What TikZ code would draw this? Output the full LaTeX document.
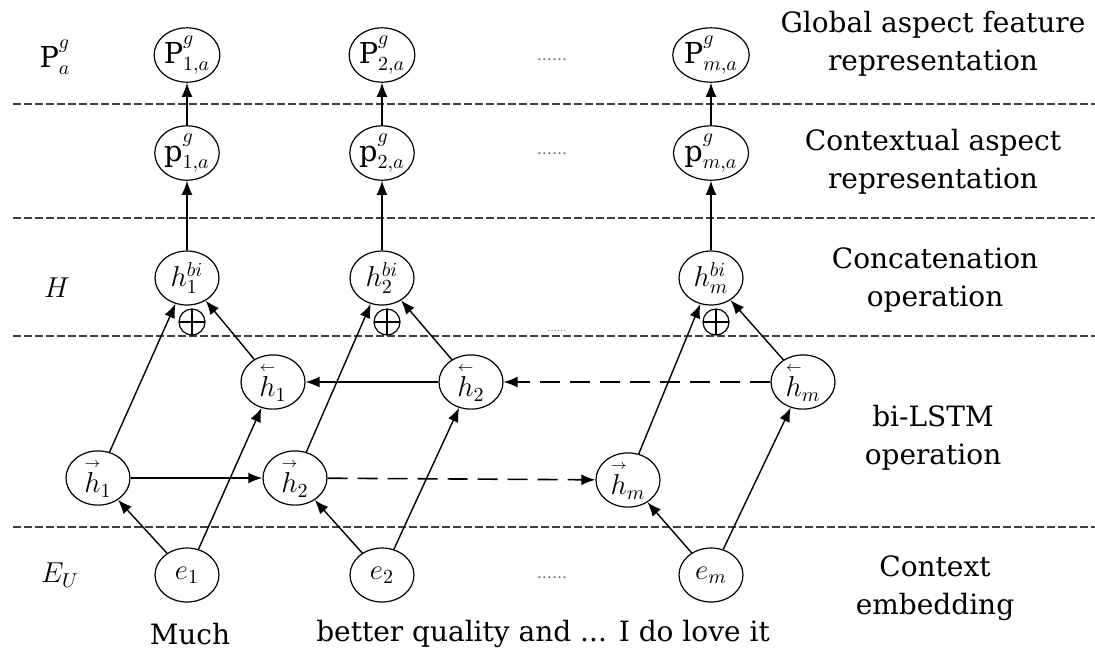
\documentclass[tikz,border=0pt]{standalone}
\usepackage{amsmath}
\usepackage{fontspec}
\setmainfont{DejaVu Serif}
\usetikzlibrary{arrows.meta}
\usetikzlibrary{shapes.geometric}

\newcommand{\fwd}[1]{\overset{\scriptscriptstyle\rightarrow}{h}_{#1}}
\newcommand{\bwd}[1]{\overset{\scriptscriptstyle\leftarrow}{h}_{#1}}

\begin{document}
\begin{tikzpicture}[
     x=0.5pt,y=-0.5pt,
     unit/.style={ellipse,draw,line width=0.6pt,minimum width=32pt,minimum height=27pt,inner sep=0pt,font=\Large},
     oplus/.style={circle,draw,line width=0.6pt,minimum size=13pt,inner sep=0pt,
       path picture={\draw[line width=0.6pt] (path picture bounding box.north) -- (path picture bounding box.south)
         (path picture bounding box.west) -- (path picture bounding box.east);}},
     layer/.style={draw=black!75,line width=0.8pt,dash pattern=on 4pt off 1.5pt},
     link/.style={-{Latex[length=7pt,width=5.5pt]},line width=0.7pt},
     skip/.style={link,line width=0.8pt,dash pattern=on 10pt off 5pt},
     tag/.style={align=center,font=\fontsize{14}{19}\selectfont},
     dots/.style={text=black!55,font=\footnotesize}
   ]
   \useasboundingbox (0,0) rectangle (1095,655);
   % Layer separators.
   \foreach \y in {104,218,336,527}
     \draw[layer] (13,\y) -- (1095,\y);
   % Row names.
   \node[font=\Large] (Pa) at (55,57) {$\mathrm{P}^{g}_{a}$};
   \node[font=\Large] (Hr) at (57,288) {$H$};
   \node[font=\Large] (Eu) at (60,575) {$E_{U}$};
   % Columns.
   \node[unit] (P1) at (187,55) {$\mathrm{P}^{g}_{1,a}$};
   \node[unit] (P2) at (382,55) {$\mathrm{P}^{g}_{2,a}$};
   \node[unit] (Pm) at (711,55) {$\mathrm{P}^{g}_{m,a}$};
   \node[unit] (p1) at (187,153) {$\mathrm{p}^{g}_{1,a}$};
   \node[unit] (p2) at (382,153) {$\mathrm{p}^{g}_{2,a}$};
   \node[unit] (pm) at (711,153) {$\mathrm{p}^{g}_{m,a}$};
   \node[unit] (H1) at (187,278) {$h^{bi}_{1}$};
   \node[unit] (H2) at (382,278) {$h^{bi}_{2}$};
   \node[unit] (Hm) at (711,278) {$h^{bi}_{m}$};
   \node[oplus] (c1) at (192,322) {};
   \node[oplus] (c2) at (387,322) {};
   \node[oplus] (cm) at (716,322) {};
   \node[unit] (b1) at (273,382) {$\bwd{1}$};
   \node[unit] (b2) at (471,382) {$\bwd{2}$};
   \node[unit] (bm) at (803,382) {$\bwd{m}$};
   \node[unit] (f1) at (98,478) {$\fwd{1}$};
   \node[unit] (f2) at (295,478) {$\fwd{2}$};
   \node[unit] (fm) at (628,480) {$\fwd{m}$};
   \node[unit] (e1) at (187,575) {$e_{1}$};
   \node[unit] (e2) at (382,575) {$e_{2}$};
   \node[unit] (em) at (711,575) {$e_{m}$};
   % Gaps.
   \node[dots] (d1) at (552,60) {......};
   \node[dots] (d2) at (552,154) {......};
   \node[dots] (d3) at (557,331) {\tiny......};
   \node[dots] (d4) at (552,578) {......};
   % Connectors.
   \foreach \i in {1,2,m} {
     \draw[link] (e\i) -- (f\i);
     \draw[link] (e\i) -- (b\i);
     \draw[link] (f\i) -- (H\i);
     \draw[link] (b\i) -- (H\i);
     \draw[link] (H\i) -- (p\i);
     \draw[link] (p\i) -- (P\i);
   }
   \draw[link,line width=1.1pt] (f1) -- (f2);
   \draw[skip] (f2) -- (fm);
   \draw[link] (b2) -- (b1);
   \draw[skip] (bm) -- (b2);
   % Layer names.
   \node[tag] (t1) at (933,44) {Global aspect feature\\representation};
   \node[tag] (t2) at (933,162) {Contextual aspect\\representation};
   \node[tag] (t3) at (935,280) {Concatenation\\operation};
   \node[tag] (t4) at (933,438) {bi-LSTM\\operation};
   \node[tag] (t5) at (935,588) {Context\\embedding};
   % Sentence.
   \node[tag] (w1) at (190,634) {Much};
   \node[tag] (w2) at (543,634) {better quality and ... I do love it};
\end{tikzpicture}
\end{document}
